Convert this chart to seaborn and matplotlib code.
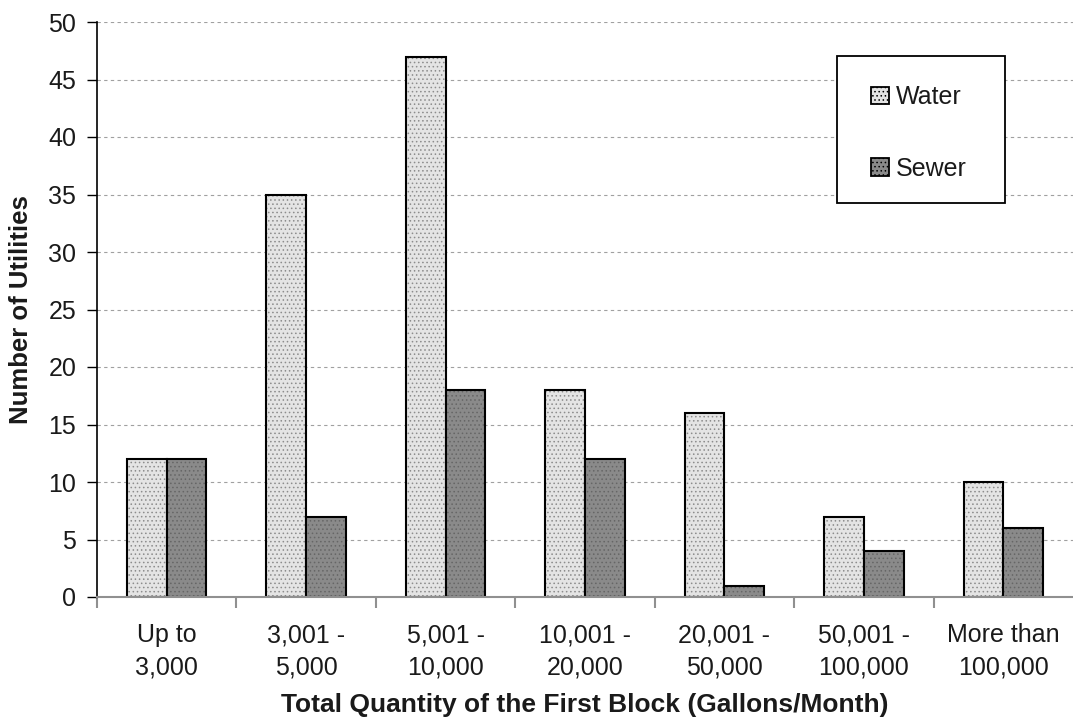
import matplotlib
matplotlib.use("Agg")
import matplotlib.pyplot as plt
import seaborn as sns
import pandas as pd
import numpy as np
from matplotlib.patches import Patch, Rectangle

categories = ["Up to\n3,000", "3,001 -\n5,000", "5,001 -\n10,000", "10,001 -\n20,000",
              "20,001 -\n50,000", "50,001 -\n100,000", "More than\n100,000"]
water = [12, 35, 47, 18, 16, 7, 10]
sewer = [12, 7, 18, 12, 1, 4, 6]
series = ["Water", "Sewer"]

df = pd.DataFrame({
    "cat": categories * 2,
    "val": water + sewer,
    "series": [series[0]] * len(categories) + [series[1]] * len(categories),
})

sns.set_style("white")
plt.rcParams['font.family'] = ['Liberation Sans', 'DejaVu Sans']
plt.rcParams['hatch.linewidth'] = 0.6
txtc = "#1a1a1a"

W, H = 1073, 721
fig = plt.figure(figsize=(W / 100, H / 100), dpi=100)
ax = fig.add_axes([97 / W, 1 - 597 / H, (1073 - 97) / W, (597 - 22) / H])

colors = {"Water": "#e4e4e4", "Sewer": "#8a8a8a"}
sns.barplot(data=df, x="cat", y="val", hue="series", palette=colors,
            width=0.57, dodge=True, ax=ax, edgecolor="black", linewidth=1.5,
            saturation=1, legend=False)

for i, cont in enumerate(ax.containers):
    for p in cont:
        p.set_hatch("....")
        p.set_edgecolor("black")
        p.set_linewidth(1.5)
        p._hatch_color = (0.55, 0.55, 0.55, 1) if i == 0 else (0.4, 0.4, 0.4, 1)

ax.set_ylim(0, 50)
ax.set_xlim(-0.5, len(categories) - 0.5)
ax.set_yticks(np.arange(0, 51, 5))
ax.yaxis.grid(True, linestyle=(0, (3, 3)), color="#a0a0a0", linewidth=0.8)
ax.set_axisbelow(True)

ax.tick_params(axis="y", labelsize=18, length=7, width=1, left=True, color="black",
               pad=8, labelcolor=txtc)
ax.tick_params(axis="x", labelsize=18, length=0, pad=19, labelcolor=txtc)
ax.set_xticks(np.arange(len(categories)) - 0.5, minor=True)
ax.tick_params(axis="x", which="minor", length=8, width=1.5, bottom=True, color="#909090")
ax.set_xticks(np.arange(len(categories)))
ax.set_xticklabels(categories, linespacing=1.45)

for s in ["top", "right"]:
    ax.spines[s].set_visible(False)
ax.spines["left"].set_color("black")
ax.spines["left"].set_linewidth(1.2)
ax.spines["bottom"].set_color("#909090")
ax.spines["bottom"].set_linewidth(1.5)

ax.set_xlabel("Total Quantity of the First Block (Gallons/Month)", fontsize=19,
              fontweight="bold", labelpad=9.5, color=txtc)
ax.set_ylabel("Number of Utilities", fontsize=18.5, fontweight="bold", color=txtc)
ax.yaxis.set_label_coords(-64 / (1073 - 97), 0.5)

# legend frame
ax.add_patch(Rectangle((837 / W, 1 - 203 / H), (1005 - 837) / W, (203 - 56) / H,
                       transform=fig.transFigure, facecolor="white", clip_on=False,
                       edgecolor="black", linewidth=1.3, zorder=5))
handles = [Patch(facecolor=colors[s], edgecolor="black", hatch="....", linewidth=1.3) for s in series]
leg = ax.legend(handles, series, loc="upper left",
                bbox_to_anchor=(871 / W, 1 - 85 / H), bbox_transform=fig.transFigure,
                fontsize=18, frameon=False, labelspacing=1.9, borderpad=0,
                handlelength=0.7, handleheight=0.7, handletextpad=0.3, borderaxespad=0,
                labelcolor=txtc)
leg.set_zorder(6)

fig.savefig("out.png", dpi=100)
